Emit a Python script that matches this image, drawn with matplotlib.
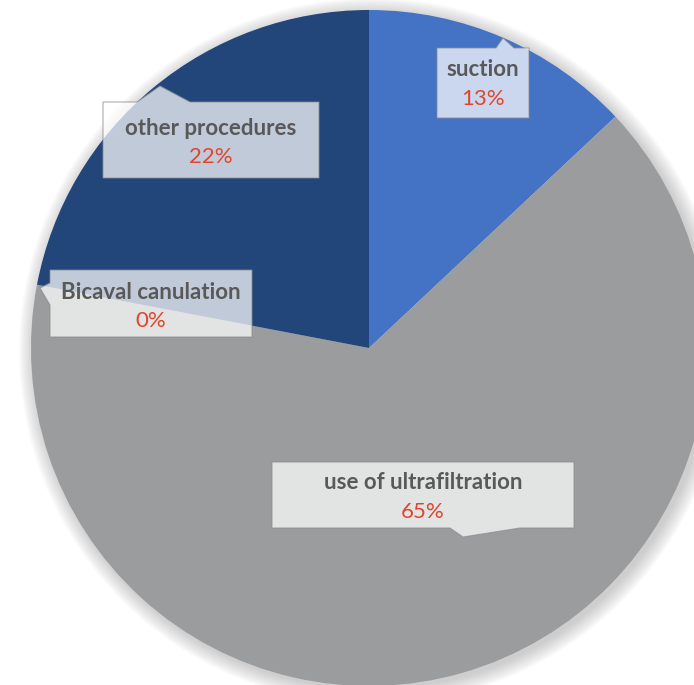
import matplotlib.pyplot as plt
from matplotlib.patches import Polygon, Circle
import numpy as np

labels = ['suction', 'use of ultrafiltration', 'Bicaval canulation', 'other procedures']
shares = [13, 65, 0, 22]
colors = ['#4472C4', '#9B9C9E', '#9B9C9E', '#22457A']

W, H = 694, 685
CX, CY, R = 369, 348, 338


def px(x, y):
    # pixel position -> data coords (pie radius = 1)
    return ((x - CX) / R, (CY - y) / R)


# callout boxes: box corners + pointer (base start, tip, base end) in pixels
callouts = {
    'suction': dict(box=(437, 48, 529, 118), side='top', ptr=((496, 48), (503, 38), (514, 48)),
                    text=(483, 70), pct=(483, 99)),
    'use of ultrafiltration': dict(box=(272, 462, 574, 528), side='bottom', ptr=((520, 528), (463, 537), (450, 528)),
                                   text=(423, 483), pct=(423, 512)),
    'Bicaval canulation': dict(box=(50, 270, 252, 337), side='left', ptr=((50, 305), (40, 288), (50, 283)),
                               text=(151, 293), pct=(151, 321)),
    'other procedures': dict(box=(103, 102, 319, 178), side='top', ptr=((137, 102), (160, 86), (190, 102)),
                             text=(211, 129), pct=(211, 157)),
}

plt.rcParams['font.family'] = ['Lato', 'DejaVu Sans']
fig = plt.figure(figsize=(W / 100, H / 100), dpi=100)
ax = fig.add_axes([0, 0, 1, 1])

# soft shadow around the pie
for r in np.linspace(1.045, 1.0, 12):
    ax.add_patch(Circle((0.01, -0.01), r, color='#7f7f7f', alpha=0.035, lw=0, zorder=0))

ax.pie(shares, colors=colors, startangle=90, counterclock=False, radius=1,
       wedgeprops=dict(linewidth=0), center=(0, 0), frame=True)
ax.set_xlim(-CX / R, (W - CX) / R)
ax.set_ylim((CY - H) / R, CY / R)
ax.set_aspect('equal')
ax.axis('off')

for lab, val in zip(labels, shares):
    c = callouts[lab]
    x0, y0, x1, y1 = c['box']
    a, tip, b = c['ptr']
    if c['side'] == 'top':
        verts = [(x0, y0), a, tip, b, (x1, y0), (x1, y1), (x0, y1)]
    elif c['side'] == 'bottom':
        verts = [(x0, y0), (x1, y0), (x1, y1), a, tip, b, (x0, y1)]
    else:
        verts = [(x0, y0), (x1, y0), (x1, y1), (x0, y1), a, tip, b]
    ax.add_patch(Polygon([px(*v) for v in verts], closed=True, facecolor='white',
                         alpha=0.72, edgecolor='#8c8c8c', lw=0.8, zorder=5))
    ax.text(*px(*c['text']), lab, ha='center', va='center', fontsize=16,
            fontweight='bold', color='#595959', zorder=6)
    ax.text(*px(*c['pct']), f'{val}%', ha='center', va='center', fontsize=16,
            color='#E0452C', zorder=6)

fig.savefig('out.png', dpi=100)
